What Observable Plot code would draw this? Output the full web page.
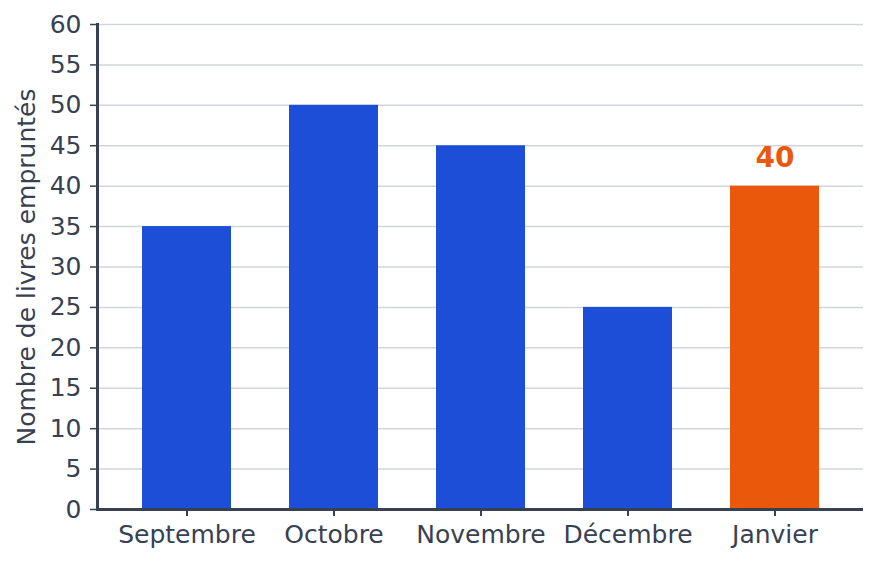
<!DOCTYPE html>
<html>
<head>
<meta charset="utf-8">
<script src="https://cdn.jsdelivr.net/npm/d3@7"></script>
<script src="https://cdn.jsdelivr.net/npm/@observablehq/plot@0.6"></script>
<style>
  html, body { margin: 0; padding: 0; background: #fff; }
</style>
</head>
<body>
<div id="chart"></div>
<script>
const months = ["Septembre", "Octobre", "Novembre", "Décembre", "Janvier"];
const values = [35, 50, 45, 25, 40];
const highlight = "Janvier";
const yTicks = d3.range(0, 61, 5);
const yLabel = "Nombre de livres empruntés";

const data = months.map((m, i) => ({month: m, value: values[i]}));
const textColor = "#374151";
const axisColor = "#374151";

const chart = Plot.plot({
  width: 878,
  height: 565,
  marginLeft: 97,
  marginRight: 15,
  marginTop: 24,
  marginBottom: 56,
  style: {fontFamily: "DejaVu Sans", fontSize: "25px", color: textColor, background: "#fff"},
  x: {domain: months, paddingInner: 0.395, paddingOuter: 0.29},
  y: {domain: [0, 60]},
  marks: [
    Plot.gridY(yTicks, {stroke: "#d1d5db", strokeOpacity: 1, strokeWidth: 1.5}),
    Plot.barY(data, {x: "month", y: "value", fill: d => d.month === highlight ? "#ea580c" : "#1d4ed8"}),
    Plot.text(data.filter(d => d.month === highlight), {x: "month", y: "value", text: d => String(d.value), dy: -28, fill: "#ea580c", fontWeight: "bold", fontSize: 28}),
    Plot.axisY({ticks: yTicks, tickSize: 7, tickPadding: 9, stroke: axisColor, strokeWidth: 1.5, fill: textColor, label: yLabel, labelAnchor: "center", labelArrow: "none", labelOffset: 80, fontSize: 25}),
    Plot.axisX({tickSize: 7, tickPadding: 9, stroke: axisColor, strokeWidth: 2, fill: textColor, label: null, fontSize: 25}),
    Plot.ruleY([0], {stroke: axisColor, strokeWidth: 3}),
    Plot.frame({anchor: "left", stroke: axisColor, strokeWidth: 3})
  ]
});
document.getElementById("chart").appendChild(chart);
</script>
</body>
</html>
